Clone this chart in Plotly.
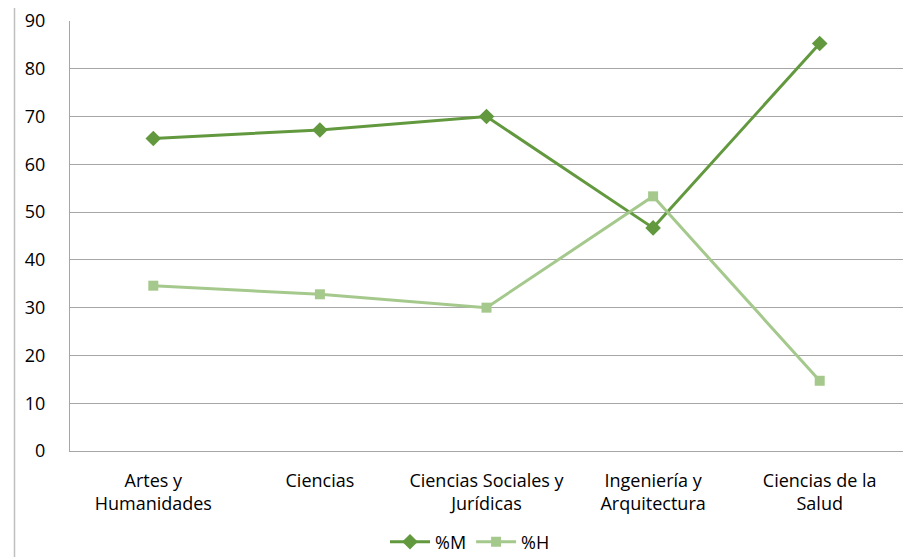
import plotly.graph_objects as go

categories = ["Artes y<br>Humanidades", "Ciencias", "Ciencias Sociales y<br>Jurídicas",
              "Ingeniería y<br>Arquitectura", "Ciencias de la<br>Salud"]
pct_m = [65.4, 67.2, 70.0, 46.7, 85.3]
pct_h = [34.6, 32.8, 30.0, 53.3, 14.7]
y_ticks = [0, 10, 20, 30, 40, 50, 60, 70, 80, 90]

dark = "#62993e"
light = "#a5c98c"
font_family = "'Open Sans', sans-serif"

# page body has an 8px default margin; compensate so the plot lands where the reference is
W, H = 909, 549
L, R, T, B = 62, 14, 13, 106
plot_w = W - L - R
plot_h = H - T - B

fig = go.Figure()
fig.add_trace(go.Scatter(x=categories, y=pct_m, name="%M", mode="lines+markers",
                         line=dict(color=dark, width=3),
                         marker=dict(symbol="diamond", size=12, color=dark)))
fig.add_trace(go.Scatter(x=categories, y=pct_h, name="%H", mode="lines+markers",
                         line=dict(color=light, width=3),
                         marker=dict(symbol="square", size=10, color=light)))

fig.update_layout(
    width=W, height=H,
    margin=dict(l=L, r=R, t=T, b=B, autoexpand=False),
    paper_bgcolor="white", plot_bgcolor="white",
    font=dict(family=font_family, size=18, color="#000000"),
    showlegend=True,
    legend=dict(orientation="h", x=(470 - 8 - L) / plot_w, xanchor="center",
                y=-(542 - 8 - (T + plot_h)) / plot_h, yanchor="middle",
                font=dict(size=18), itemwidth=40, traceorder="normal"),
    xaxis=dict(type="category", range=[-0.5, 4.5], showgrid=False, showline=True,
               linecolor="#a6a6a6", linewidth=1, ticks="", tickfont=dict(size=18),
               ticklabelstandoff=13, automargin=False),
    yaxis=dict(range=[0, 90], tickvals=y_ticks, showgrid=True, gridcolor="#a6a6a6",
               gridwidth=1, showline=True, linecolor="#a6a6a6", linewidth=1,
               zeroline=False, ticks="", tickfont=dict(size=18), ticklabelstandoff=20,
               ticklabeloverflow="allow", automargin=False),
    shapes=[dict(type="line", xref="paper", yref="paper",
                 x0=(6.5 - L) / plot_w, x1=(6.5 - L) / plot_w,
                 y0=-(H - T - plot_h) / plot_h, y1=(T + plot_h + 10) / plot_h,
                 line=dict(color="#bfbfbf", width=1.5))],
)

fig.write_html("out.html")
